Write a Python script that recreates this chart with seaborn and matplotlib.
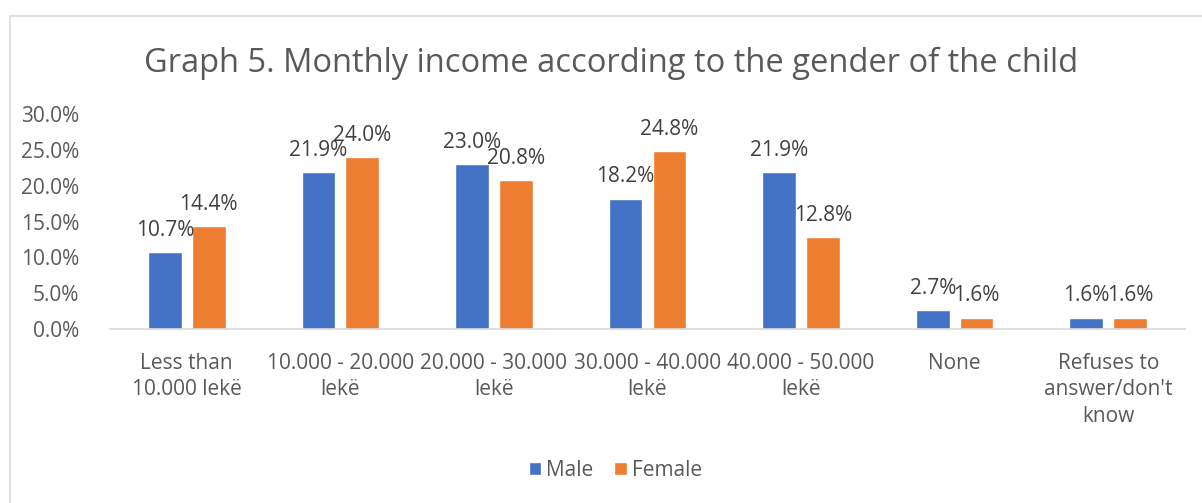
import matplotlib
matplotlib.use("Agg")
import matplotlib.pyplot as plt
import seaborn as sns
import pandas as pd
from matplotlib.patches import Rectangle
from matplotlib.ticker import FuncFormatter

categories = ["Less than\n10.000 lekë", "10.000 - 20.000\nlekë", "20.000 - 30.000\nlekë",
              "30.000 - 40.000\nlekë", "40.000 - 50.000\nlekë", "None",
              "Refuses to\nanswer/don't\nknow"]
male = [10.7, 21.9, 23.0, 18.2, 21.9, 2.7, 1.6]
female = [14.4, 24.0, 20.8, 24.8, 12.8, 1.6, 1.6]
series = ["Male", "Female"]
title = "Graph 5. Monthly income according to the gender of the child"

df = pd.DataFrame({
    "cat": categories * 2,
    "val": male + female,
    "gender": [series[0]] * len(categories) + [series[1]] * len(categories),
})

sns.set_style("white")
plt.rcParams["font.family"] = ["Open Sans", "DejaVu Sans"]

fig = plt.figure(figsize=(12.02, 5.03), dpi=100)
ax = fig.add_axes([110 / 1202, (503 - 329) / 503, (1185 - 110) / 1202, (329 - 114) / 503])

sns.barplot(data=df, x="cat", y="val", hue="gender", order=categories,
            hue_order=series, palette=["#4472C4", "#ED7D31"], saturation=1,
            width=0.57, gap=0.23, errorbar=None, ax=ax, legend=True)

for cont in ax.containers:
    ax.bar_label(cont, labels=[f"{v:.1f}%" for v in cont.datavalues], padding=8,
                 fontsize=15, color="#404040")

ax.set_ylim(0, 30)
ax.set_yticks([0, 5, 10, 15, 20, 25, 30])
ax.yaxis.set_major_formatter(FuncFormatter(lambda v, p: f"{v:.1f}%"))
ax.set_xlabel("")
ax.set_ylabel("")
for s in ["top", "right", "left"]:
    ax.spines[s].set_visible(False)
ax.spines["bottom"].set_color("#d9d9d9")
ax.spines["bottom"].set_linewidth(1.2)
ax.tick_params(axis="both", length=0, labelsize=15, colors="#595959")
ax.tick_params(axis="x", pad=17)
ax.tick_params(axis="y", pad=22)
for t in ax.get_xticklabels():
    t.set_linespacing(1.35)
ax.set_xlim(-0.5, len(categories) - 0.5)

fig.text(0.508, (503 - 63) / 503, title, ha="center", va="center", fontsize=23.5, color="#595959")

ax.legend(loc="center", bbox_to_anchor=(0.512, (503 - 470) / 503), bbox_transform=fig.transFigure,
          ncol=2, frameon=False, fontsize=15, handlelength=0.6, handleheight=0.6,
          handletextpad=0.25, columnspacing=1.0, labelcolor="#595959")

fig.patches.append(Rectangle((10 / 1202, -0.1), 1.2, (503 - 16) / 503 + 0.1, transform=fig.transFigure,
                             fill=False, edgecolor="#d9d9d9", linewidth=1.2))
fig.savefig("out.png", dpi=100)
